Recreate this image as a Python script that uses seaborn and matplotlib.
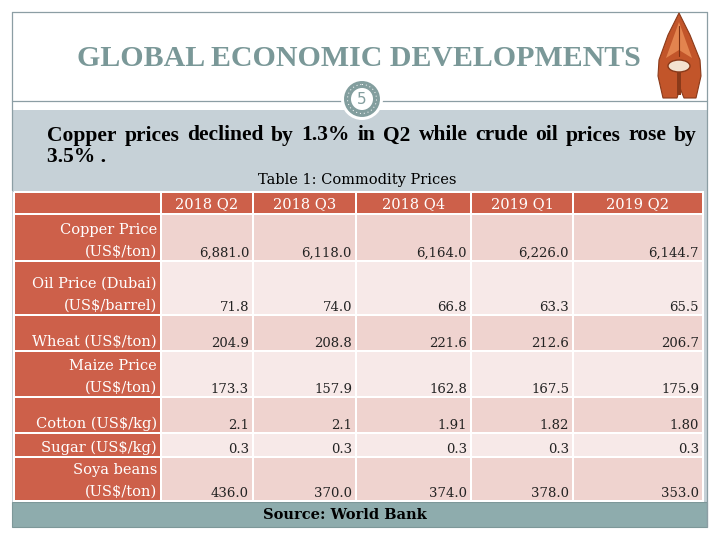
import matplotlib
matplotlib.use("Agg")
import matplotlib.pyplot as plt
from matplotlib.patches import Rectangle, Circle, Polygon, Ellipse
from matplotlib.colors import ListedColormap
import numpy as np
import seaborn as sns

# ---------------- data ----------------
slide_title = "GLOBAL ECONOMIC DEVELOPMENTS"
page_number = "5"
subtitle_line1 = "Copper prices declined by 1.3% in Q2 while crude oil prices rose by"
subtitle_line2 = "3.5% ."
table_title = "Table 1: Commodity Prices"
source_text = "Source: World Bank"

quarters = ["2018 Q2", "2018 Q3", "2018 Q4", "2019 Q1", "2019 Q2"]
commodities = ["Copper Price\n(US$/ton)", "Oil Price (Dubai)\n(US$/barrel)",
               "Wheat (US$/ton)", "Maize Price\n(US$/ton)", "Cotton (US$/kg)",
               "Sugar (US$/kg)", "Soya beans\n(US$/ton)"]
copper = [6881.0, 6118.0, 6164.0, 6226.0, 6144.7]
oil = [71.8, 74.0, 66.8, 63.3, 65.5]
wheat = [204.9, 208.8, 221.6, 212.6, 206.7]
maize = [173.3, 157.9, 162.8, 167.5, 175.9]
cotton = [2.1, 2.1, 1.91, 1.82, 1.80]
sugar = [0.3, 0.3, 0.3, 0.3, 0.3]
soya = [436.0, 370.0, 374.0, 378.0, 353.0]
cotton_decimals = [1, 1, 2, 2, 2]

# ---------------- style ----------------
sns.set_theme(style="white")
plt.rcParams["font.family"] = ["DejaVu Serif", "DejaVu Sans"]

RED = "#cd604a"
PINK_DARK = "#efd3cf"
PINK_LIGHT = "#f7e9e8"
BG_GRAY = "#c6d1d7"
TEAL = "#8eacad"
FRAME = "#8c9ea4"
TITLE_C = "#7a9898"

fig = plt.figure(figsize=(7.2, 5.4), dpi=100)
ax = fig.add_axes([0, 0, 1, 1])
ax.set_xlim(0, 720)
ax.set_ylim(540, 0)
ax.axis("off")

# frame and background
ax.add_patch(Rectangle((12, 110), 695, 392, facecolor=BG_GRAY, edgecolor="none", zorder=0))
ax.add_patch(Rectangle((12, 502), 695, 25, facecolor=TEAL, edgecolor="#7d9899", lw=0.8, zorder=1))
ax.plot([12, 707], [12, 12], color=FRAME, lw=0.9, zorder=1)
ax.plot([12, 12], [12, 190], color=FRAME, lw=0.9, zorder=1)
ax.plot([707, 707], [12, 527], color=FRAME, lw=0.9, zorder=1)
ax.plot([12, 707], [100.5, 100.5], color=FRAME, lw=0.9, zorder=1)

# title
ax.text(359, 58, slide_title, ha="center", va="center", fontsize=21.5,
        fontweight="bold", family="Liberation Serif", color=TITLE_C, zorder=3)

# page-number badge
ax.add_patch(Circle((362, 99), 21, facecolor="white", edgecolor="none", zorder=4))
ax.add_patch(Circle((362, 99), 14.5, facecolor="white", edgecolor="#839e9e", lw=5, zorder=5))
ax.add_patch(Circle((362, 99), 14.5, facecolor="none", edgecolor="white", lw=0.7,
                    linestyle=(0, (1, 3)), zorder=6))
ax.text(362, 99, page_number, ha="center", va="center", fontsize=11,
        family="DejaVu Sans", color="#839e9e", zorder=7)

# logo (pen nib)
ax.add_patch(Polygon([(679, 13), (690, 35), (700, 60), (701, 76), (696, 98), (684, 98),
                      (680, 88), (677, 98), (663, 98), (658, 76), (659, 60), (668, 35)],
                     closed=True, facecolor="#c2552a", edgecolor="#8a3a1a", lw=0.8, zorder=3))
ax.add_patch(Polygon([(679, 22), (692, 58), (679, 50), (666, 58)], closed=True,
                     facecolor="#e3844f", edgecolor="none", zorder=4))
ax.plot([679, 679], [26, 56], color="#7a2f12", lw=0.8, zorder=5)
ax.add_patch(Rectangle((677, 70), 4, 25, facecolor="#8a3a1a", edgecolor="none", zorder=4))
ax.add_patch(Ellipse((679, 66), 22, 12, facecolor="#f3e2d0", edgecolor="#8a3a1a", lw=1, zorder=5))

# subtitle (justified first line)
renderer = fig.canvas.get_renderer()
sub_kw = dict(fontsize=15.5, fontweight="bold", family="Liberation Serif", color="black")
words = subtitle_line1.split()
widths = []
for w in words:
    t = ax.text(0, 0, w, **sub_kw)
    widths.append(t.get_window_extent(renderer).width)
    t.remove()
gap = (697 - 47 - sum(widths)) / (len(words) - 1)
x = 47
for w, wd in zip(words, widths):
    ax.text(x, 140.5, w, ha="left", va="baseline", zorder=3, **sub_kw)
    x += wd + gap
ax.text(47, 162.5, subtitle_line2, ha="left", va="baseline", zorder=3, **sub_kw)

# table title
ax.text(357, 180, table_title, ha="center", va="center", fontsize=10.5, color="black", zorder=3)

# table grid
x_edges = np.array([14, 161, 253, 356, 471, 573, 703])
y_edges = np.array([192, 214, 261, 315, 351, 397, 433, 457, 501])
n_rows = len(commodities)
n_cols = len(quarters)
codes = np.zeros((n_rows + 1, n_cols + 1))
for r in range(n_rows):
    for c in range(n_cols):
        codes[r + 1, c + 1] = 1 if r % 2 == 0 else 2
cmap = ListedColormap([RED, PINK_DARK, PINK_LIGHT])
ax.pcolormesh(x_edges, y_edges, codes, cmap=cmap, vmin=-0.5, vmax=2.5,
              edgecolors="white", linewidth=1.4, zorder=2)

# header
for c, q in enumerate(quarters):
    xc = (x_edges[c + 1] + x_edges[c + 2]) / 2
    ax.text(xc, 204.5, q, ha="center", va="center", fontsize=10.5, color="white", zorder=3)

# row labels and values
rows = [copper, oil, wheat, maize, cotton, sugar, soya]
for r, (label, vals) in enumerate(zip(commodities, rows)):
    bottom = y_edges[r + 2]
    ax.text(157, bottom - 2, label, ha="right", va="bottom", fontsize=10.5,
            color="white", linespacing=1.75, zorder=3)
    for c, v in enumerate(vals):
        if r == 4:
            s = f"{v:.{cotton_decimals[c]}f}"
        else:
            s = f"{v:,.1f}"
        ax.text(x_edges[c + 2] - 4, bottom - 4, s, ha="right", va="baseline",
                fontsize=9.5, color="#222222", zorder=3)

# source
ax.text(345, 515, source_text, ha="center", va="center", fontsize=10.5,
        fontweight="bold", color="black", zorder=3)

fig.savefig("out.png", dpi=100)
